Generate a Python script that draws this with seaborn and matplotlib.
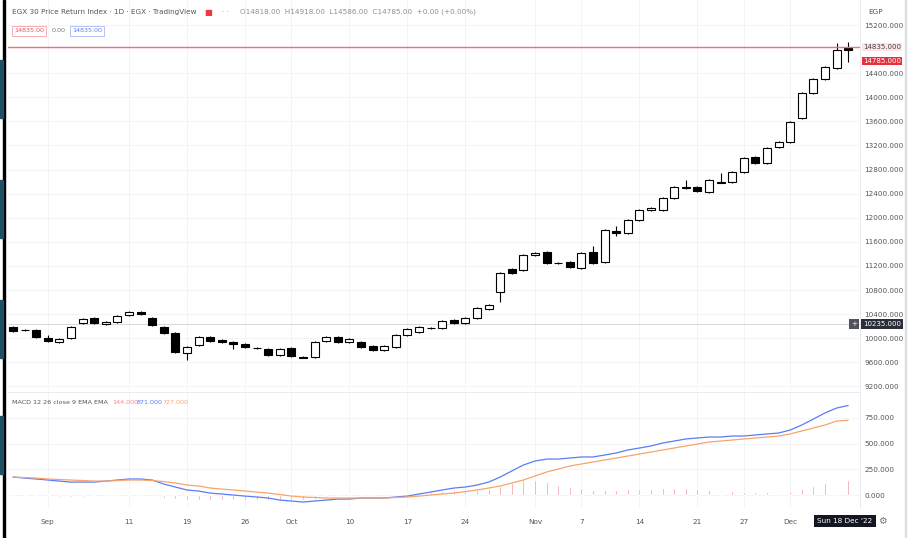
import numpy as np
import pandas as pd
import seaborn as sns
import matplotlib.pyplot as plt
import matplotlib.transforms as mtrans
from matplotlib.patches import Rectangle

# daily candles, EGX 30, Sep - Dec 2022
opens = [10187, 10145, 10137, 10004, 9938, 10004, 10253, 10336, 10237, 10270,
         10386, 10436, 10336, 10187, 10087, 9755, 9888, 10021, 9971, 9938,
         9905, 9846, 9822, 9722, 9838, 9697, 9689, 9954, 10021, 9938,
         9938, 9871, 9805, 9855, 10054, 10104, 10162, 10170, 10303, 10253,
         10336, 10486, 10768, 11150, 11133, 11382, 11432, 11257, 11266, 11166,
         11432, 11266, 11780, 11747, 11963, 12137, 12129, 12328, 12494, 12511,
         12428, 12585, 12594, 12760, 13009, 12909, 13175, 13258, 13656, 14071,
         14304, 14486, 14818]
closes = [10120, 10129, 10021, 9954, 9988, 10187, 10320, 10253, 10270, 10369,
          10436, 10403, 10220, 10087, 9772, 9855, 10021, 9954, 9938, 9905,
          9855, 9830, 9722, 9822, 9705, 9680, 9938, 10021, 9938, 9988,
          9855, 9805, 9871, 10054, 10154, 10187, 10178, 10286, 10253, 10336,
          10502, 10552, 11083, 11083, 11382, 11415, 11249, 11241, 11183, 11415,
          11249, 11797, 11747, 11963, 12129, 12154, 12328, 12511, 12511, 12444,
          12627, 12602, 12760, 12992, 12909, 13158, 13258, 13590, 14071, 14304,
          14503, 14785, 14785]
highs = [10203, 10154, 10154, 10054, 10004, 10203, 10336, 10353, 10286, 10386,
         10452, 10452, 10353, 10203, 10104, 9871, 10037, 10037, 9988, 9954,
         9921, 9855, 9838, 9838, 9855, 9705, 9954, 10037, 10037, 10004,
         9954, 9888, 9888, 10071, 10170, 10203, 10187, 10303, 10320, 10353,
         10519, 10569, 11100, 11166, 11399, 11432, 11448, 11266, 11282, 11432,
         11531, 11814, 11863, 11980, 12146, 12179, 12345, 12527, 12627, 12527,
         12644, 12743, 12776, 13009, 13025, 13175, 13274, 13606, 14088, 14320,
         14519, 14901, 14918]
lows = [10104, 10120, 10004, 9938, 9921, 9988, 10237, 10237, 10220, 10253,
        10369, 10386, 10203, 10071, 9755, 9639, 9871, 9938, 9921, 9822,
        9838, 9822, 9705, 9705, 9689, 9672, 9672, 9938, 9921, 9921,
        9838, 9788, 9788, 9838, 10037, 10087, 10154, 10154, 10237, 10237,
        10320, 10469, 10602, 11067, 11116, 11365, 11233, 11233, 11166, 11150,
        11233, 11249, 11697, 11731, 11946, 12112, 12112, 12312, 12478, 12428,
        12411, 12577, 12577, 12743, 12893, 12893, 13158, 13241, 13640, 14055,
        14287, 14470, 14586]

# MACD 12 26 9
macd_vals = [175, 165, 156, 146, 136, 126, 126, 126, 136, 146,
             156, 156, 146, 107, 78, 49, 39, 19, 10, 0,
             -10, -19, -29, -49, -58, -68, -58, -49, -39, -39,
             -29, -29, -29, -19, -10, 10, 29, 49, 68, 78,
             97, 126, 175, 234, 292, 331, 350, 350, 360, 370,
             370, 389, 409, 438, 457, 477, 506, 525, 545, 555,
             564, 564, 574, 574, 584, 594, 603, 632, 681, 739,
             798, 846, 871]
signal_vals = [175, 170, 165, 156, 151, 146, 141, 136, 136, 141,
               146, 146, 141, 131, 117, 97, 88, 68, 58, 49,
               39, 29, 19, 5, -10, -19, -24, -29, -29, -29,
               -29, -29, -29, -24, -19, -10, 0, 10, 19, 34,
               49, 68, 88, 117, 146, 185, 224, 253, 282, 302,
               321, 341, 360, 379, 399, 418, 438, 457, 477, 496,
               516, 525, 535, 545, 555, 564, 574, 594, 623, 652,
               681, 720, 727]

# x axis: candle index of each date label
tick_pos = [3, 10, 15, 20, 24, 29, 34, 39, 45, 49, 54, 59, 63, 67]
tick_labels = ['Sep', '11', '19', '26', 'Oct', '10', '17', '24', 'Nov', '7', '14', '21', '27', 'Dec']
price_ticks = list(range(9200, 15201, 400))
macd_ticks = [0, 250, 500, 750]
alert_price = 14835
cross_price = 10235

sns.set_style('white')
plt.rcParams['font.family'] = ['DejaVu Sans']

W, H = 914, 538
fig = plt.figure(figsize=(W / 100, H / 100), dpi=100)


def px_box(left, top, right, bottom):
    return [left / W, 1 - bottom / H, (right - left) / W, (bottom - top) / H]


def ftxt(x, y, s, **kw):
    kw.setdefault('va', 'center')
    kw.setdefault('fontsize', 5.2)
    return fig.text(x / W, 1 - y / H, s, **kw)


ax1 = fig.add_axes(px_box(8, 0, 860, 390))
ax2 = fig.add_axes(px_box(8, 392, 860, 508), sharex=ax1)

df = pd.DataFrame({'open': opens, 'high': highs, 'low': lows, 'close': closes})
df['idx'] = np.arange(len(df))
up = df['close'] >= df['open']

# candles
ax1.vlines(df['idx'], df['low'], df['high'], color='black', lw=0.8, zorder=2)
ax1.bar(df['idx'][up], (df['close'] - df['open'])[up], bottom=df['open'][up], width=0.68,
        color='white', edgecolor='black', lw=0.8, zorder=3)
ax1.bar(df['idx'][~up], (df['open'] - df['close'])[~up], bottom=df['close'][~up], width=0.68,
        color='black', edgecolor='black', lw=0.8, zorder=3)

ax1.axhline(alert_price, color='#f56b76', lw=1.0, zorder=4)
ax1.axhline(cross_price, color='#cfd1d8', lw=0.6, zorder=1)

ax1.set_xlim(-0.43, 73.02)
ax1.set_ylim(9141, 15615)
# the scale hides a tick that sits under the alert label
shown_ticks = [v for v in price_ticks if abs(v - alert_price) > 150]
ax1.set_yticks(shown_ticks)
ax1.set_yticklabels([f'{v:.3f}' for v in shown_ticks])

# macd pane
df['macd'] = macd_vals
df['signal'] = signal_vals
df['hist'] = df['macd'] - df['signal']
ax2.bar(df['idx'], df['hist'], width=0.16, color='#ec8e98', zorder=2)
long = df.melt(id_vars='idx', value_vars=['macd', 'signal'], var_name='line', value_name='value')
sns.lineplot(data=long, x='idx', y='value', hue='line',
             palette={'macd': '#5b7cf6', 'signal': '#f6a56a'},
             lw=0.9, legend=False, ax=ax2, zorder=3)
ax2.set_ylim(-126, 1002)
ax2.set_yticks(macd_ticks)
ax2.set_yticklabels([f'{v:.3f}' for v in macd_ticks])
ax2.set_xticks(tick_pos)
ax2.set_xticklabels(tick_labels)
ax2.set_xlabel('')
ax2.set_ylabel('')

for ax in (ax1, ax2):
    ax.yaxis.tick_right()
    ax.tick_params(axis='y', length=0, pad=3, labelsize=5.2, labelcolor='#555555')
    ax.tick_params(axis='x', length=0, pad=8, labelsize=5.2, labelcolor='#555555')
    ax.grid(True, color='#f1f2f5', lw=0.6)
    for side in ('top', 'left', 'bottom'):
        ax.spines[side].set_visible(False)
    ax.spines['right'].set_color('#e6e8ee')
    ax.spines['right'].set_linewidth(0.6)
    ax.set_axisbelow(True)
ax1.set_xticks(tick_pos)
ax1.tick_params(axis='x', labelbottom=False)
ax2.spines['top'].set_visible(True)
ax2.spines['top'].set_color('#e6e8ee')
ax2.spines['top'].set_linewidth(0.6)

# labels on the price scale
ax1.annotate(f'{alert_price:.3f}', xy=(1, alert_price), xycoords=('axes fraction', 'data'),
             xytext=(22, 0), textcoords='offset pixels', ha='center', va='center', fontsize=5.0,
             color='#444444', bbox=dict(boxstyle='square,pad=0.12', fc='#fde4e6', ec='none'))
ax1.annotate(f'{closes[-1]:.3f}', xy=(1, closes[-1]), xycoords=('axes fraction', 'data'),
             xytext=(22, -11), textcoords='offset pixels', ha='center', va='center', fontsize=5.0,
             color='white', bbox=dict(boxstyle='square,pad=0.2', fc='#e8303c', ec='none'))
ax1.annotate(f'{cross_price:.3f}', xy=(1, cross_price), xycoords=('axes fraction', 'data'),
             xytext=(22, 0), textcoords='offset pixels', ha='center', va='center', fontsize=5.0,
             color='white', bbox=dict(boxstyle='square,pad=0.3', fc='#2a2e39', ec='none'))
ax1.annotate('+', xy=(1, cross_price), xycoords=('axes fraction', 'data'),
             xytext=(-6, 0), textcoords='offset pixels', ha='center', va='center', fontsize=5,
             color='white', bbox=dict(boxstyle='square,pad=0.25', fc='#50535e', ec='none'))
tr = mtrans.blended_transform_factory(ax2.transData, ax2.transAxes)
ax2.text(71.7, -0.112, "Sun 18 Dec '22", transform=tr, ha='center', va='center', fontsize=5.2,
         color='white', bbox=dict(boxstyle='square,pad=0.45', fc='#131722', ec='none'))

# legend texts
ftxt(12, 12, 'EGX 30 Price Return Index · 1D · EGX · TradingView', color='#555555')
ftxt(204, 12, '■', color='#f23645', fontsize=6)
ftxt(222, 12, '· ·', color='#9aa0aa')
ftxt(240, 12, f'O{opens[-1]:.2f}  H{highs[-1]:.2f}  L{lows[-1]:.2f}  C{closes[-1]:.2f}  '
     f'{closes[-1] - closes[-2]:+.2f} ({(closes[-1] / closes[-2] - 1) * 100:+.2f}%)', color='#8a8f99')
ftxt(14, 31, f'{alert_price:.2f}', color='#e8505b', fontsize=4.6,
     bbox=dict(boxstyle='square,pad=0.35', fc='white', ec='#f3a3aa', lw=0.6))
ftxt(52, 31, '0.00', color='#777777', fontsize=4.6)
ftxt(72, 31, f'{alert_price:.2f}', color='#5b7cf6', fontsize=4.6,
     bbox=dict(boxstyle='square,pad=0.35', fc='white', ec='#a9b9f8', lw=0.6))
ftxt(12, 403, 'MACD 12 26 close 9 EMA EMA', color='#555555', fontsize=4.6)
ftxt(112, 403, f'{df["hist"].iloc[-1]:.3f}', color='#f08a94', fontsize=4.6)
ftxt(137, 403, f'{macd_vals[-1]:.3f}', color='#5b7cf6', fontsize=4.6)
ftxt(162, 403, f'{signal_vals[-1]:.3f}', color='#f6a56a', fontsize=4.6)
ftxt(868, 12, 'EGP', color='#555555')
ftxt(882, 521, '⚙', color='#777777', fontsize=7, ha='center')

# screen capture edges
fig.add_artist(Rectangle((3 / W, 0), 2 / W, 1, transform=fig.transFigure, color='black'))
for top in (60, 180, 300, 416):
    fig.add_artist(Rectangle((0, 1 - (top + 58) / H), 3 / W, 58 / H,
                             transform=fig.transFigure, color='#1e4f62'))
fig.add_artist(Rectangle((905 / W, 0), 1 / W, 1, transform=fig.transFigure, color='#dcdfe5'))

fig.savefig('out.png', dpi=100)
